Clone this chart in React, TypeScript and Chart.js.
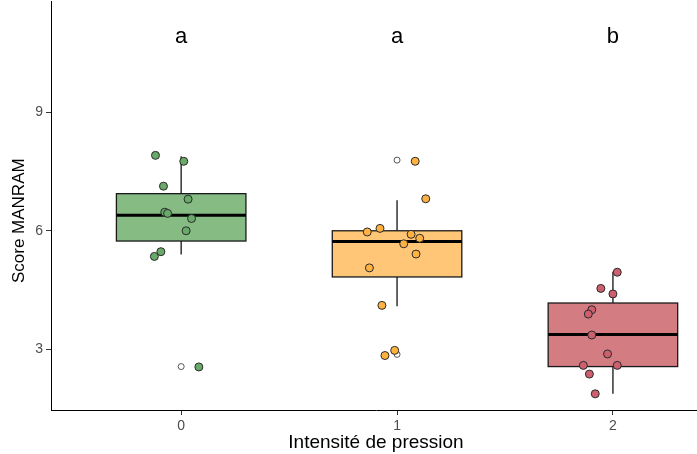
import React, { useEffect, useRef } from "react";
import { Chart, registerables } from "chart.js";

Chart.register(...registerables);

const categories = ["0", "1", "2"];
const categoryPos = [0, 1, 2];
const letters = ["a", "a", "b"];
const letterY = 10.92;
const yTitle = "Score MANRAM";
const xTitle = "Intensité de pression";

// box stats per group: [whiskerLow, q1, median, q3, whiskerHigh]
const boxStats = [
  [5.4, 5.74, 6.39, 6.94, 7.89],
  [4.09, 4.83, 5.73, 6.0, 6.77],
  [1.87, 2.56, 3.37, 4.17, 4.96],
];

// outliers (boxplot layer)
const outlierX = [0, 1, 1];
const outlierY = [2.56, 7.79, 2.87];

// jittered points: x offset from category, y value
const g0X = [-0.119, 0.012, -0.082, 0.032, -0.076, -0.063, 0.048, 0.023, -0.094, -0.124, 0.082];
const g0Y = [7.91, 7.76, 7.13, 6.8, 6.47, 6.44, 6.31, 6.0, 5.47, 5.35, 2.55];
const g1X = [0.084, 0.133, -0.138, -0.079, 0.065, 0.105, 0.031, 0.088, -0.128, -0.07, -0.011, -0.056];
const g1Y = [7.76, 6.81, 5.97, 6.06, 5.91, 5.81, 5.67, 5.41, 5.06, 4.11, 2.97, 2.84];
const g2X = [0.02, -0.056, 0.0, -0.098, -0.114, -0.098, -0.025, -0.137, 0.02, -0.109, -0.082];
const g2Y = [4.95, 4.54, 4.4, 4.0, 3.89, 3.36, 2.88, 2.59, 2.59, 2.37, 1.87];

const yTicks = [3, 6, 9];
const boxFill = ["rgb(134,187,132)", "rgb(255,198,120)", "rgb(211,124,130)"];
const pointFill = ["rgb(105,170,104)", "rgb(255,178,64)", "rgb(206,96,110)"];
const boxHalfWidth = 0.3;

const FONT = "'Liberation Sans', Arial, sans-serif";

const boxPlugin = {
  id: "boxes",
  beforeDatasetsDraw(chart: any) {
    const { ctx, scales } = chart;
    const xs = scales.x;
    const ys = scales.y;
    ctx.save();
    boxStats.forEach((s, i) => {
      const c = categoryPos[i];
      const xc = xs.getPixelForValue(c);
      const xl = xs.getPixelForValue(c - boxHalfWidth);
      const xr = xs.getPixelForValue(c + boxHalfWidth);
      const [lo, q1, med, q3, hi] = s.map((v) => ys.getPixelForValue(v));
      ctx.strokeStyle = "#333";
      ctx.lineWidth = 1.5;
      ctx.beginPath();
      ctx.moveTo(xc, hi);
      ctx.lineTo(xc, q3);
      ctx.moveTo(xc, q1);
      ctx.lineTo(xc, lo);
      ctx.stroke();
      ctx.fillStyle = boxFill[i];
      ctx.fillRect(xl, q3, xr - xl, q1 - q3);
      ctx.strokeStyle = "#1a1a1a";
      ctx.lineWidth = 1.3;
      ctx.strokeRect(xl, q3, xr - xl, q1 - q3);
      ctx.lineWidth = 3;
      ctx.strokeStyle = "#000";
      ctx.beginPath();
      ctx.moveTo(xl, med);
      ctx.lineTo(xr, med);
      ctx.stroke();
    });
    ctx.restore();
  },
  afterDatasetsDraw(chart: any) {
    const { ctx, scales, chartArea } = chart;
    ctx.save();
    ctx.fillStyle = "#000";
    ctx.font = `22px ${FONT}`;
    ctx.textAlign = "center";
    ctx.textBaseline = "middle";
    letters.forEach((l, i) => {
      ctx.fillText(l, scales.x.getPixelForValue(categoryPos[i]), scales.y.getPixelForValue(letterY));
    });
    // y axis title
    ctx.font = `17px ${FONT}`;
    ctx.textBaseline = "alphabetic";
    ctx.translate(24, (chartArea.top + chartArea.bottom) / 2 + 15);
    ctx.rotate(-Math.PI / 2);
    ctx.fillText(yTitle, 0, 0);
    ctx.restore();
  },
};

export default function App() {
  const ref = useRef<HTMLCanvasElement>(null);
  useEffect(() => {
    if (!ref.current) return;
    const mk = (xo: number[], yv: number[], c: number) => xo.map((x, i) => ({ x: c + x, y: yv[i] }));
    const chart = new Chart(ref.current, {
      type: "scatter",
      data: {
        datasets: [
          {
            data: mk(g0X, g0Y, 0),
            backgroundColor: pointFill[0],
            borderColor: "#2a2a2a",
            borderWidth: 1,
            pointRadius: 4,
            order: 0,
          },
          {
            data: mk(g1X, g1Y, 1),
            backgroundColor: pointFill[1],
            borderColor: "#2a2a2a",
            borderWidth: 1,
            pointRadius: 4,
            order: 0,
          },
          {
            data: mk(g2X, g2Y, 2),
            backgroundColor: pointFill[2],
            borderColor: "#2a2a2a",
            borderWidth: 1,
            pointRadius: 4,
            order: 0,
          },
          {
            data: outlierX.map((x, i) => ({ x, y: outlierY[i] })),
            backgroundColor: "#fff",
            borderColor: "#555",
            borderWidth: 1,
            pointRadius: 3,
            order: 5,
          },
        ],
      },
      options: {
        animation: false,
        responsive: false,
        maintainAspectRatio: false,
        layout: { padding: { top: 0, right: 0, left: 0, bottom: 0 } },
        plugins: { legend: { display: false }, tooltip: { enabled: false } },
        scales: {
          x: {
            type: "linear",
            min: -0.603,
            max: 2.408,
            afterBuildTicks: (axis: any) => {
              axis.ticks = categoryPos.map((v) => ({ value: v }));
            },
            afterFit: (axis: any) => {
              axis.height = 44;
            },
            ticks: {
              callback: (v: any) => categories[categoryPos.indexOf(Number(v))] ?? "",
              color: "#4d4d4d",
              font: { family: FONT, size: 14 },
              padding: 3,
            },
            grid: { drawOnChartArea: false, tickLength: 5, color: "#333", tickColor: "#333" },
            border: { color: "#000", width: 1 },
            title: {
              display: true,
              text: xTitle,
              color: "#000",
              font: { family: FONT, size: 19 },
              padding: { top: 0, bottom: 0 },
            },
          },
          y: {
            type: "linear",
            min: 1.46,
            max: 11.81,
            afterBuildTicks: (axis: any) => {
              axis.ticks = yTicks.map((v) => ({ value: v }));
            },
            afterFit: (axis: any) => {
              axis.width = 51;
            },
            ticks: {
              color: "#4d4d4d",
              font: { family: FONT, size: 14 },
              padding: 3,
            },
            grid: { drawOnChartArea: false, tickLength: 5, color: "#333", tickColor: "#333" },
            border: { color: "#000", width: 1 },
            title: { display: false },
          },
        },
      },
      plugins: [boxPlugin],
    });
    return () => chart.destroy();
  }, []);
  return (
    <div style={{ position: "fixed", left: 0, top: 0, width: 697, height: 454, overflow: "hidden", background: "#fff" }}>
      <canvas
        ref={ref}
        width={706}
        height={464}
        style={{ position: "absolute", left: 0, top: -10, width: 706, height: 464 }}
      />
    </div>
  );
}
